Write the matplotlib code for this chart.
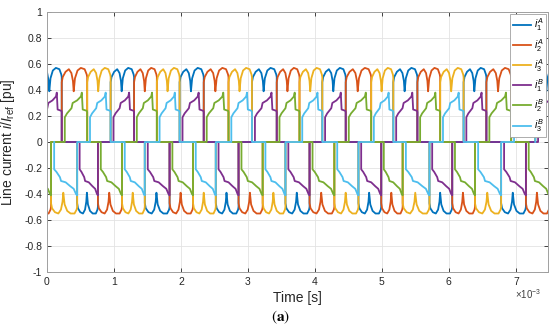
import matplotlib
matplotlib.use('Agg')
import matplotlib.pyplot as plt

# ---- data (time in ms, current in pu) ----
# commutation instants of the upper (positive) group, A converter
pos_switch_ms = [0.22, 0.60, 0.95, 1.30, 1.64, 1.98, 2.34, 2.71, 3.06, 3.43, 3.77,
                 4.11, 4.46, 4.84, 5.17, 5.53, 5.87, 6.22, 6.56, 6.93, 7.29]
# commutation instants of the lower (negative) group
neg_switch_ms = [0.06, 0.45, 0.76, 1.12, 1.46, 1.83, 2.18, 2.52, 2.86, 3.22, 3.56,
                 3.92, 4.29, 4.65, 4.99, 5.31, 5.71, 6.05, 6.39, 6.78, 7.15]
pos_edges_ms = [-0.13, 7.64]     # start of first / end of last positive pulse
neg_edges_ms = [-0.30, 7.50]
pos_first_phase = 0              # phase 1 conducts first (upper group)
neg_first_phase = 1              # phase 2 conducts first (lower group)

# pulse shapes (fraction of pulse width, level)
a_pos_frac = [0.0, 0.04, 0.15, 0.28, 0.38, 0.44, 0.47, 0.52, 0.62, 0.75, 0.90, 0.98, 1.0]
a_pos_lvl = [0.46, 0.50, 0.54, 0.56, 0.53, 0.47, 0.39, 0.49, 0.55, 0.57, 0.56, 0.52, 0.50]
a_neg_frac = [0.0, 0.04, 0.15, 0.28, 0.38, 0.44, 0.47, 0.52, 0.62, 0.75, 0.90, 0.98, 1.0]
a_neg_lvl = [-0.47, -0.51, -0.54, -0.55, -0.52, -0.46, -0.39, -0.48, -0.53, -0.55, -0.55, -0.52, -0.50]
b_pos_frac = [0.0, 0.10, 0.30, 0.35, 0.55, 0.72, 0.76, 0.80, 0.98, 1.0]
b_pos_lvl = [0.19, 0.22, 0.26, 0.30, 0.32, 0.35, 0.38, 0.25, 0.24, 0.23]
b_neg_frac = [0.0, 0.10, 0.25, 0.30, 0.50, 0.70, 0.85, 0.95, 1.0]
b_neg_lvl = [-0.21, -0.23, -0.27, -0.30, -0.31, -0.34, -0.36, -0.40, -0.41]
b_delay = 0.12                   # B pulses start this fraction later

labels = [r'$i^{A}_{1}$', r'$i^{A}_{2}$', r'$i^{A}_{3}$',
          r'$i^{B}_{1}$', r'$i^{B}_{2}$', r'$i^{B}_{3}$']
colors = ['#0072BD', '#D95319', '#EDB120', '#7E2F8E', '#77AC30', '#4DBEEE']
yticks = [-1, -0.8, -0.6, -0.4, -0.2, 0, 0.2, 0.4, 0.6, 0.8, 1]
ytick_labels = ['-1', '-0.8', '-0.6', '-0.4', '-0.2', '0', '0.2', '0.4', '0.6', '0.8', '1']
xticks = [0, 1, 2, 3, 4, 5, 6, 7]


def pulses(switches, edges, first):
    b = [edges[0]] + switches + [edges[1]]
    out = []
    for k in range(len(b) - 1):
        out.append(((first + k) % 3, b[k], b[k + 1]))
    return out


def build(phase, pos, neg, pf, pl, nf, nl, delay):
    pts = []
    for ph, s, e in pos:
        if ph == phase:
            pts.append((s, e, pf, pl))
    for ph, s, e in neg:
        if ph == phase:
            pts.append((s, e, nf, nl))
    pts.sort()
    t, v = [], []
    for s, e, fr, lv in pts:
        s2 = s + delay * (e - s)
        t.append(s2); v.append(0.0)
        for f, l in zip(fr, lv):
            t.append(s2 + f * (e - s2)); v.append(l)
        t.append(e); v.append(0.0)
    return t, v


pos = pulses(pos_switch_ms, pos_edges_ms, pos_first_phase)
neg = pulses(neg_switch_ms, neg_edges_ms, neg_first_phase)

plt.rcParams['font.family'] = ['Liberation Sans', 'DejaVu Sans']
plt.rcParams['mathtext.fontset'] = 'custom'
plt.rcParams['mathtext.rm'] = 'Liberation Sans'
plt.rcParams['mathtext.it'] = 'Liberation Sans:italic'

fig = plt.figure(figsize=(5.5, 3.36), dpi=100)
ax = fig.add_axes([47 / 550, 64 / 336, 501 / 550, 260 / 336])

for i in range(3):
    t, v = build(i, pos, neg, a_pos_frac, a_pos_lvl, a_neg_frac, a_neg_lvl, 0.0)
    ax.plot(t, v, color=colors[i], lw=1.3, label=labels[i])
for i in range(3):
    t, v = build(i, pos, neg, b_pos_frac, b_pos_lvl, b_neg_frac, b_neg_lvl, b_delay)
    ax.plot(t, v, color=colors[3 + i], lw=1.3, label=labels[3 + i])

ax.set_xlim(0, 7.48)
ax.set_ylim(-1, 1)
ax.set_xticks(xticks)
ax.set_yticks(yticks)
ax.set_yticklabels(ytick_labels)
ax.tick_params(direction='in', labelsize=7.5, length=3, width=0.6, colors='#262626',
               top=True, right=True, labeltop=False, labelright=False)
ax.grid(True, color='#e3e3e3', lw=0.6)
ax.set_axisbelow(True)
for sp in ax.spines.values():
    sp.set_color('#a0a0a0')
    sp.set_linewidth(0.7)

ax.set_xlabel('Time [s]', fontsize=10, color='#262626', labelpad=3)
ax.set_ylabel(r'Line current $i/I_{\mathrm{ref}}$ [pu]', fontsize=10, color='#262626', labelpad=5)
ax.text(0.987, -0.06, r'$\times10^{-3}$', transform=ax.transAxes, ha='right', va='top',
        fontsize=7, color='#404040')
fig.text(0.51, 0.055, r'$(\mathbf{a})$', ha='center', va='center', fontsize=11,
         math_fontfamily='stix')

leg = ax.legend(loc='upper right', fontsize=7.5, handlelength=1.7, handletextpad=0.25,
                labelspacing=0.32, borderpad=0.3, borderaxespad=0.15, fancybox=False,
                framealpha=1, edgecolor='#a0a0a0')
leg.get_frame().set_linewidth(0.6)

fig.savefig('out.png', dpi=100)
